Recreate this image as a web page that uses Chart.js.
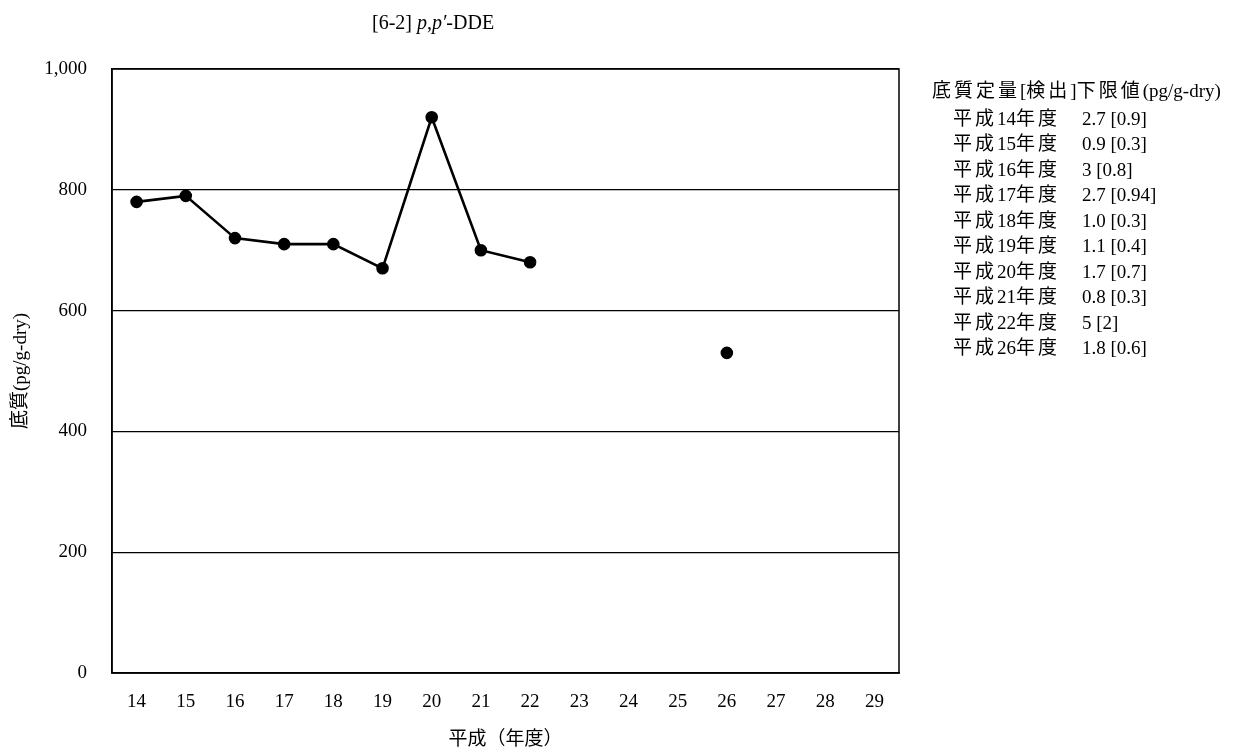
<!DOCTYPE html>
<html>
<head>
<meta charset="utf-8">
<script src="https://cdn.jsdelivr.net/npm/chart.js@4"></script>
<style>
	body { margin: 0; background: #fff; }
	#wrap { position: relative; width: 1236px; height: 749px; }
	#title { position: absolute; left: 372px; top: 11px; font: 20px "Liberation Serif", "Noto Sans CJK JP", serif; color: #000; white-space: nowrap; }
	#limits { position: absolute; left: 932px; top: 78px; font: 19px "Liberation Serif", "Noto Sans CJK JP", serif; color: #000; line-height: 25.5px; white-space: nowrap; }
	#limits .cj { letter-spacing: 3px; }
	#limits .head { margin-bottom: 2px; }
	#limits .row { padding-left: 21px; }
	#limits .lab { display: inline-block; width: 129px; }
</style>
</head>
<body>
<div id="wrap">
	<canvas id="chart" width="1236" height="749"></canvas>
	<div id="title">[6-2] <i>p</i>,<i>p′</i>-DDE</div>
	<div id="limits"></div>
</div>
<script>
// 年度 (平成)
const years = ['14', '15', '16', '17', '18', '19', '20', '21', '22', '23', '24', '25', '26', '27', '28', '29'];
// 底質 (pg/g-dry)
const values = [780, 790, 720, 710, 710, 670, 920, 700, 680, null, null, null, 530, null, null, null];

// 定量[検出]下限値
const limitYears = ['平成14年度', '平成15年度', '平成16年度', '平成17年度', '平成18年度', '平成19年度', '平成20年度', '平成21年度', '平成22年度', '平成26年度'];
const limitValues = ['2.7 [0.9]', '0.9 [0.3]', '3 [0.8]', '2.7 [0.94]', '1.0 [0.3]', '1.1 [0.4]', '1.7 [0.7]', '0.8 [0.3]', '5 [2]', '1.8 [0.6]'];

const fontFamily = '"Liberation Serif", "Noto Sans CJK JP", serif';

// 漢字部分だけ字間を広げる
const spaceCjk = s => s.replace(/([\u3000-\u9fff\uff00-\uffef]+)/g, '<span class="cj">$1</span>');

document.getElementById('limits').innerHTML =
	'<div class="head">' + spaceCjk('底質定量[検出]下限値') + '(pg/g-dry)</div>' +
	limitYears.map((y, i) =>
		'<div class="row"><span class="lab">' + spaceCjk(y) + '</span>' + limitValues[i] + '</div>'
	).join('');

new Chart(document.getElementById('chart'), {
	type: 'line',
	data: {
		labels: years,
		datasets: [{
			data: values,
			borderColor: '#000',
			backgroundColor: '#000',
			borderWidth: 2.6,
			pointRadius: 5,
			pointHoverRadius: 5,
			spanGaps: false,
			tension: 0
		}]
	},
	options: {
		responsive: false,
		animation: false,
		layout: { padding: { top: 69, right: 337, left: 0, bottom: 0 } },
		plugins: {
			legend: { display: false },
			tooltip: { enabled: false }
		},
		scales: {
			x: {
				offset: true,
				grid: { display: false, drawTicks: false },
				border: { color: '#000', width: 1.5 },
				ticks: { color: '#000', padding: 18, font: { family: fontFamily, size: 19 } },
				title: { display: true, text: '平成（年度）', color: '#000', padding: { top: 12, bottom: -2 }, font: { family: fontFamily, size: 19 } },
				afterFit: function(scale) { scale.height = 76; }
			},
			y: {
				min: 0,
				max: 1000,
				ticks: {
					stepSize: 200,
					color: '#000',
					padding: 25,
					font: { family: fontFamily, size: 19 },
					callback: v => v.toLocaleString('en-US')
				},
				grid: { color: '#000', lineWidth: 1.2, drawTicks: false },
				border: { color: '#000', width: 1.5 },
				title: { display: true, text: '底質(pg/g-dry)', color: '#000', padding: { top: 10, bottom: 0 }, font: { family: fontFamily, size: 19 } },
				afterFit: function(scale) { scale.width = 112; }
			}
		}
	},
	plugins: [{
		id: 'frame',
		afterDraw: function(chart) {
			const a = chart.chartArea;
			const ctx = chart.ctx;
			ctx.save();
			ctx.strokeStyle = '#000';
			ctx.lineWidth = 1.5;
			ctx.strokeRect(a.left, a.top, a.right - a.left, a.bottom - a.top);
			ctx.restore();
		}
	}]
});
</script>
</body>
</html>
